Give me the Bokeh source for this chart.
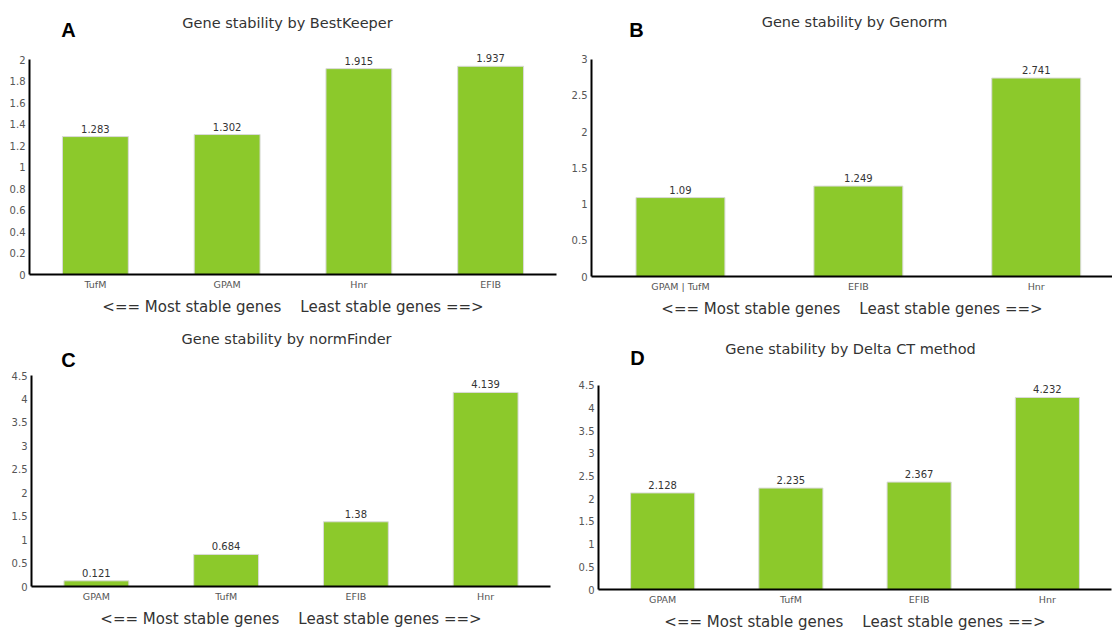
from bokeh.plotting import figure
from bokeh.models import (FactorRange, Range1d, FixedTicker, NumeralTickFormatter,
                          ColumnDataSource)
from bokeh.layouts import column, row
from bokeh.embed import file_html
from bokeh.resources import INLINE
from bokeh.core.properties import value

# ---- data ----
a_genes = ["TufM", "GPAM", "Hnr", "EFIB"]
a_vals = [1.283, 1.302, 1.915, 1.937]
a_ticks = [0, 0.2, 0.4, 0.6, 0.8, 1, 1.2, 1.4, 1.6, 1.8, 2]

b_genes = ["GPAM | TufM", "EFIB", "Hnr"]
b_vals = [1.09, 1.249, 2.741]
b_ticks = [0, 0.5, 1, 1.5, 2, 2.5, 3]

c_genes = ["GPAM", "TufM", "EFIB", "Hnr"]
c_vals = [0.121, 0.684, 1.38, 4.139]
c_ticks = [0, 0.5, 1, 1.5, 2, 2.5, 3, 3.5, 4, 4.5]

d_genes = ["GPAM", "TufM", "EFIB", "Hnr"]
d_vals = [2.128, 2.235, 2.367, 4.232]
d_ticks = [0, 0.5, 1, 1.5, 2, 2.5, 3, 3.5, 4, 4.5]

titles = ["Gene stability by BestKeeper", "Gene stability by Genorm",
          "Gene stability by normFinder", "Gene stability by Delta CT method"]
letters = ["A", "B", "C", "D"]
x_label = "<== Most stable genes\u00a0\u00a0\u00a0\u00a0Least stable genes ==>"

BAR = "#8CC92B"
TXT = "#333333"
TICK = "#555555"
FONT = "DejaVu Sans"


def panel(genes, vals, ticks, title, letter, origin, size, frame, title_pos,
          letter_pos, cat_px=None):
    ox, oy = origin
    w, h = size
    fl, fr, ft, fa = frame          # frame left/right, top-tick y, axis y (page px)
    top_val = ticks[-1]
    upp = top_val / (fa - ft)        # data units per pixel (y)
    n = len(genes)
    if cat_px is None:
        x_range = FactorRange(factors=genes)
        span = n
        xs = genes
    else:                            # panel cut off at the right edge
        span = (fr - fl) / cat_px
        x_range = Range1d(0, span)
        xs = [i + 0.5 for i in range(n)]
    xpp = span / (fr - fl)
    p = figure(width=w, height=h, x_range=x_range,
               y_range=Range1d(0, (fa - oy) * upp),
               output_backend="svg", toolbar_location=None, title=None,
               min_border_left=fl - ox, min_border_right=ox + w - fr,
               min_border_top=0, min_border_bottom=oy + h - fa)
    p.outline_line_color = None
    p.background_fill_color = "white"
    p.border_fill_color = "white"
    p.xgrid.grid_line_color = None
    p.ygrid.grid_line_color = None
    src = ColumnDataSource(dict(g=xs, v=vals, t=[str(v) for v in vals]))
    p.vbar(x="g", top="v", width=0.5, source=src, fill_color=BAR,
           line_color="#DADADA", line_width=1)
    p.text(x="g", y="v", text="t", source=src, y_offset=-4,
           text_align="center", text_baseline="bottom",
           text_font_size="10px", text_color=TXT, text_font=value(FONT))
    for ax in (p.xaxis[0], p.yaxis[0]):
        ax.axis_line_color = "black"
        ax.axis_line_width = 2
        ax.major_tick_line_color = None
        ax.minor_tick_line_color = None
        ax.major_tick_out = 0
        ax.major_tick_in = 0
        ax.minor_tick_out = 0
        ax.major_label_text_color = TICK
        ax.major_label_text_font = FONT
    if cat_px is not None:
        p.xaxis.ticker = FixedTicker(ticks=xs)
        p.xaxis.major_label_overrides = {x: g for x, g in zip(xs, genes)}
    p.yaxis.bounds = (0, top_val)
    p.yaxis.ticker = FixedTicker(ticks=ticks)
    p.yaxis.formatter = NumeralTickFormatter(format="0.[0]")
    p.yaxis.major_label_text_font_size = "10px"
    p.yaxis.major_label_standoff = 4
    p.xaxis.major_label_text_font_size = "9.5px"
    p.xaxis.major_label_standoff = 4
    p.xaxis.axis_label = x_label
    p.xaxis.axis_label_text_font = FONT
    p.xaxis.axis_label_text_font_size = "15px"
    p.xaxis.axis_label_text_font_style = "normal"
    p.xaxis.axis_label_text_color = TXT
    p.xaxis.axis_label_standoff = 5
    tx, ty = title_pos
    lx, ly = letter_pos
    p.text(x="x", y="y", text="t",
           source=ColumnDataSource(dict(x=[(tx - fl) * xpp],
                                        y=[(fa - ty) * upp], t=[title])),
           text_align="center", text_baseline="middle",
           text_font=value(FONT), text_font_size="14.5px", text_color=TXT)
    p.text(x="x", y="y", text="t",
           source=ColumnDataSource(dict(x=[(lx - fl) * xpp],
                                        y=[(fa - ly) * upp], t=[letter])),
           text_align="center", text_baseline="middle",
           text_font=value("Liberation Sans"), text_font_size="20px",
           text_font_style="bold", text_color="black")
    return p


pa = panel(a_genes, a_vals, a_ticks, titles[0], letters[0], (0, 0), (560, 320),
           (29, 556, 59, 274), (287, 22), (68, 29))
pb = panel(b_genes, b_vals, b_ticks, titles[1], letters[1], (560, 0), (552, 320),
           (591, 1112, 59, 277), (854, 22), (636, 30), cat_px=177.9)
pc = panel(c_genes, c_vals, c_ticks, titles[2], letters[2], (0, 320), (560, 313),
           (31, 550, 375, 586), (286, 338), (68, 359))
pd = panel(d_genes, d_vals, d_ticks, titles[3], letters[3], (560, 320), (552, 313),
           (598, 1111, 386, 594), (850, 349), (637, 358))

layout = column(row(column(pa), column(pb), spacing=0),
                row(column(pc), column(pd), spacing=0), spacing=0)
open("out.html", "w").write(file_html(layout, INLINE))
